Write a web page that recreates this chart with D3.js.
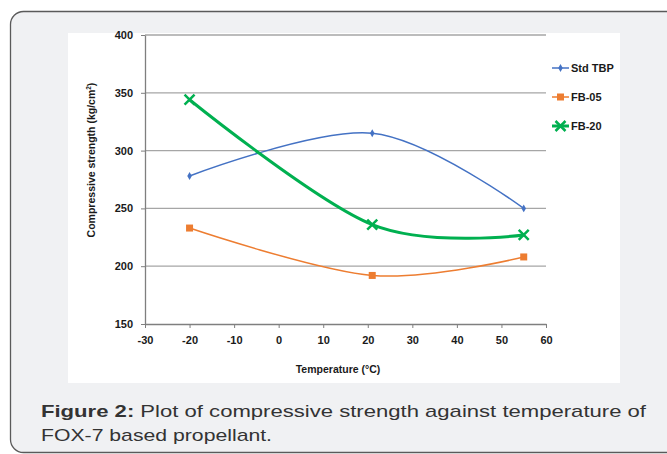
<!DOCTYPE html>
<html>
<head>
<meta charset="utf-8">
<script src="https://cdn.jsdelivr.net/npm/d3@7"></script>
<style>
  body { margin: 0; background: #ffffff; }
  svg { display: block; }
</style>
</head>
<body>
<script>
// Chart values
var temperatures = [-20, 21, 55]
var seriesNames = ["Std TBP", "FB-05", "FB-20"]
var stdTBP = [278, 315, 250]
var fb05 = [233, 192, 208]
var fb20 = [344, 236, 227]
var yTicks = [150, 200, 250, 300, 350, 400]
var xTicks = [-30, -20, -10, 0, 10, 20, 30, 40, 50, 60]

var colors = ["#4472c4", "#ed7d31", "#00b050"]
var series = [stdTBP, fb05, fb20].map(function(vals, i) {
  return {
    name: seriesNames[i],
    color: colors[i],
    points: vals.map(function(v, j) { return {x: temperatures[j], y: v} })
  }
})

var svgW = 667, svgH = 454
var svg = d3.select("body").append("svg")
            .attr("width", svgW)
            .attr("height", svgH)

// Outer rounded frame
svg.append("rect")
   .attr("x", 10.5).attr("y", 11.5)
   .attr("width", 680).attr("height", 441)
   .attr("rx", 13)
   .style("fill", "#f0f1f3")
   .style("stroke", "#5a5a5a")
   .style("stroke-width", 1.3)

// White chart area
svg.append("rect")
   .attr("x", 68).attr("y", 33)
   .attr("width", 552).attr("height", 350)
   .style("fill", "#ffffff")

// Scales
var xScale = d3.scaleLinear().domain([-30, 60]).range([145, 546])
var yScale = d3.scaleLinear().domain([150, 400]).range([324, 35])

var tickFont = "'Liberation Sans', Arial, sans-serif"
var plain = function(d) { return String(d) } // keep hyphen minus like the original

// Grid lines
svg.append("g")
   .selectAll("line")
   .data(yTicks.slice(1))
   .enter()
   .append("line")
     .attr("x1", xScale(-30)).attr("x2", xScale(60))
     .attr("y1", function(d) { return yScale(d) })
     .attr("y2", function(d) { return yScale(d) })
     .style("stroke", "#a6a6a6")
     .style("stroke-width", 1.3)

// Y axis
var yAxis = d3.axisLeft(yScale).tickValues(yTicks).tickFormat(plain).tickSize(4).tickSizeOuter(0)
var gy = svg.append("g")
   .attr("transform", "translate(" + xScale(-30) + ",0)")
   .call(yAxis)
gy.select(".domain").style("stroke", "#7f7f7f").style("stroke-width", 1.3)
gy.selectAll(".tick line").style("stroke", "#7f7f7f")
gy.selectAll(".tick text")
  .attr("x", -12)
  .style("font-family", tickFont)
  .style("font-size", "11px")
  .style("font-weight", "bold")
  .style("fill", "#1a1a1a")

// X axis
var xAxis = d3.axisBottom(xScale).tickValues(xTicks).tickFormat(plain).tickSize(4).tickSizeOuter(0)
var gx = svg.append("g")
   .attr("transform", "translate(0," + yScale(150) + ")")
   .call(xAxis)
gx.select(".domain").style("stroke", "#7f7f7f").style("stroke-width", 1.3)
gx.selectAll(".tick line").style("stroke", "#7f7f7f")
gx.selectAll(".tick text")
  .attr("y", 12)
  .style("font-family", tickFont)
  .style("font-size", "11px")
  .style("font-weight", "bold")
  .style("fill", "#1a1a1a")

// Axis titles
svg.append("text")
   .attr("x", 338).attr("y", 373)
   .style("text-anchor", "middle")
   .style("font-family", tickFont)
   .style("font-size", "10.5px")
   .style("font-weight", "bold")
   .style("fill", "#1a1a1a")
   .text("Temperature (°C)")

var yTitle = svg.append("text")
   .attr("transform", "translate(95,160) rotate(-90)")
   .style("text-anchor", "middle")
   .style("font-family", tickFont)
   .style("font-size", "10.5px")
   .style("font-weight", "600")
   .style("fill", "#1a1a1a")
yTitle.append("tspan").text("Compressive strength (kg/cm")
yTitle.append("tspan").attr("dy", -4).style("font-size", "6.5px").text("2")
yTitle.append("tspan").attr("dy", 4).text(")")

// Lines
var line = d3.line()
             .x(function(d) { return xScale(d.x) })
             .y(function(d) { return yScale(d.y) })
             .curve(d3.curveCardinal.tension(0))

var lineWidths = [1.5, 1.5, 3]
svg.selectAll(".series")
   .data(series)
   .enter()
   .append("path")
     .attr("class", "series")
     .attr("d", function(d) { return line(d.points) })
     .style("fill", "none")
     .style("stroke", function(d) { return d.color })
     .style("stroke-width", function(d, i) { return lineWidths[i] })

// Marker drawing helper
function drawMarker(g, i, color) {
  if (i == 0) {
    g.append("path")
     .attr("d", d3.symbol().type(d3.symbolDiamond).size(18))
     .style("fill", color)
  } else if (i == 1) {
    g.append("rect")
     .attr("x", -3.5).attr("y", -3.5)
     .attr("width", 7).attr("height", 7)
     .style("fill", color)
  } else {
    g.append("path")
     .attr("d", "M-5,-5L5,5M-5,5L5,-5")
     .style("stroke", color)
     .style("stroke-width", 2.5)
     .style("fill", "none")
  }
}

series.forEach(function(s, i) {
  s.points.forEach(function(p) {
    var g = svg.append("g")
               .attr("transform", "translate(" + xScale(p.x) + "," + yScale(p.y) + ")")
    drawMarker(g, i, s.color)
  })
})

// Legend
var legendY = [68, 97, 126]
series.forEach(function(s, i) {
  var g = svg.append("g").attr("transform", "translate(552," + legendY[i] + ")")
  g.append("line")
   .attr("x1", 0).attr("x2", 17)
   .style("stroke", s.color)
   .style("stroke-width", lineWidths[i])
  var m = g.append("g").attr("transform", "translate(8.5,0)")
  drawMarker(m, i, s.color)
  g.append("text")
   .attr("x", 19).attr("y", 4)
   .style("font-family", tickFont)
   .style("font-size", "11px")
   .style("font-weight", "bold")
   .style("fill", "#1a1a1a")
   .text(s.name)
})

// Caption (the original is set wide, so stretch to its measured widths)
var captionFont = "'Liberation Sans', Arial, sans-serif"
var cap1 = svg.append("text")
   .attr("x", 41).attr("y", 417)
   .attr("textLength", 605)
   .attr("lengthAdjust", "spacingAndGlyphs")
   .style("font-family", captionFont)
   .style("font-size", "17px")
   .style("fill", "#333333")
cap1.append("tspan").style("font-weight", "bold").text("Figure 2:")
cap1.append("tspan").text(" Plot of compressive strength against temperature of")

svg.append("text")
   .attr("x", 41).attr("y", 441)
   .attr("textLength", 231)
   .attr("lengthAdjust", "spacingAndGlyphs")
   .style("font-family", captionFont)
   .style("font-size", "17px")
   .style("fill", "#333333")
   .text("FOX-7 based propellant.")
</script>
</body>
</html>
